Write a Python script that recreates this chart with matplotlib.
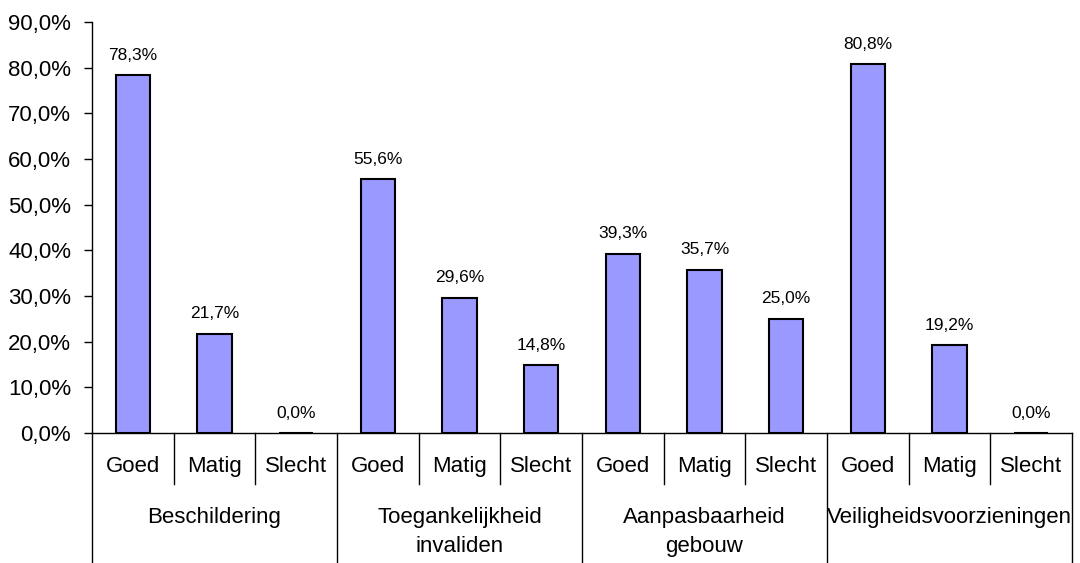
import matplotlib.pyplot as plt
import numpy as np

# data
groups = ["Beschildering", "Toegankelijkheid\ninvaliden", "Aanpasbaarheid\ngebouw", "Veiligheidsvoorzieningen"]
levels = ["Goed", "Matig", "Slecht"]
values = [78.3, 21.7, 0.0,
          55.6, 29.6, 14.8,
          39.3, 35.7, 25.0,
          80.8, 19.2, 0.0]

plt.rcParams['font.family'] = ['Liberation Sans', 'DejaVu Sans']

fig = plt.figure(figsize=(10.8, 5.63), dpi=100)
ax = fig.add_axes([0.0852, 0.2309, 0.9074, 0.73])

x = np.arange(len(values))
ax.bar(x, values, width=0.42, color='#9999FF', edgecolor='black', linewidth=1.5, zorder=3)

# value labels
for xi, v in zip(x, values):
    ax.annotate(f"{v:.1f}%".replace('.', ','), (xi, v), xytext=(0, 9), textcoords='offset points',
                ha='center', va='bottom', fontsize=12.5)

ax.set_xlim(-0.5, len(values) - 0.5)
ax.set_ylim(0, 90)
yt = np.arange(0, 91, 10)
ax.set_yticks(yt)
ax.set_yticklabels([f"{t:.1f}%".replace('.', ',') for t in yt], fontsize=16)
ax.tick_params(axis='y', length=6, width=1, pad=9)
ax.set_xticks([])

for s in ['top', 'right']:
    ax.spines[s].set_visible(False)
ax.spines['left'].set_linewidth(1)
ax.spines['bottom'].set_linewidth(1)

tr = ax.get_xaxis_transform()
# category labels and separators
for i in range(len(values)):
    ax.text(i, -0.082, levels[i % 3], transform=tr, ha='center', va='center', fontsize=16)
for b in range(len(values) + 1):
    if b % 3 == 0:
        ax.plot([b - 0.5, b - 0.5], [0, -0.32], transform=tr, color='black', lw=1, clip_on=False)
    else:
        ax.plot([b - 0.5, b - 0.5], [0, -0.124], transform=tr, color='black', lw=1, clip_on=False)

for g, name in enumerate(groups):
    ax.text(g * 3 + 1, -0.18, name, transform=tr, ha='center', va='top', fontsize=16,
            linespacing=1.5)

fig.savefig("out.png", dpi=100)
